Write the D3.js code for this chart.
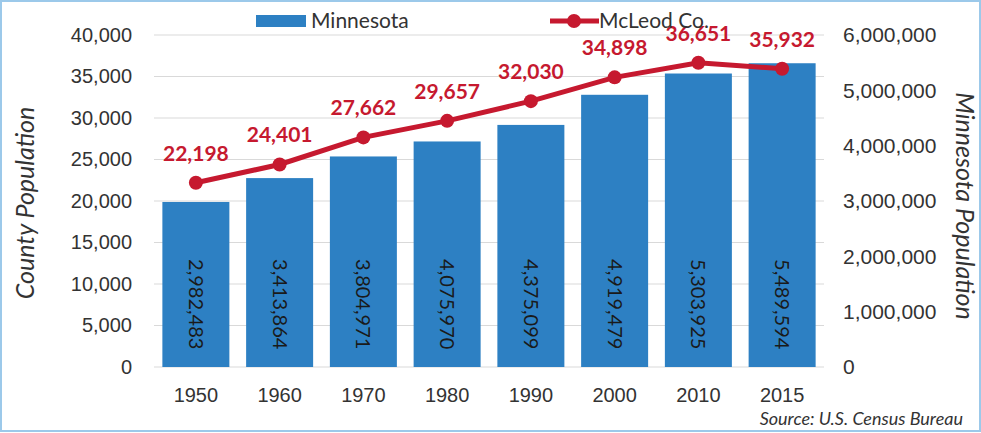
<!DOCTYPE html>
<html>
<head>
<meta charset="utf-8">
<script src="https://cdn.jsdelivr.net/npm/d3@7"></script>
<style>
  body { margin: 0; background: #fff; }
  svg { display: block; font-family: Lato, "Open Sans", sans-serif; }
</style>
</head>
<body>
<div id="chart"></div>
<script>
// data
const years = ["1950", "1960", "1970", "1980", "1990", "2000", "2010", "2015"];
const minnesota = [2982483, 3413864, 3804971, 4075970, 4375099, 4919479, 5303925, 5489594];
const mcleod = [22198, 24401, 27662, 29657, 32030, 34898, 36651, 35932];
const leftTicks = [0, 5000, 10000, 15000, 20000, 25000, 30000, 35000, 40000];
const rightTicks = [0, 1000000, 2000000, 3000000, 4000000, 5000000, 6000000];

const width = 981, height = 433;
const margin = {top: 35, right: 157, bottom: 66, left: 154};
const blue = "#2d80c3", red = "#c6192f", txt = "#333";
const fmt = d3.format(",");

const svg = d3.select("#chart").append("svg")
  .attr("width", width).attr("height", height);

// scanned page frame
svg.append("rect")
  .attr("x", 1).attr("y", 1).attr("width", width - 2).attr("height", height - 3)
  .attr("fill", "#fff").attr("stroke", "#9cc9ea").attr("stroke-width", 2);

const x = d3.scaleBand()
  .domain(years)
  .range([margin.left, width - margin.right])
  .paddingInner(0.2).paddingOuter(0.1);

const yL = d3.scaleLinear().domain([0, 40000]).range([height - margin.bottom, margin.top]);
const yR = d3.scaleLinear().domain([0, 6000000]).range([height - margin.bottom, margin.top]);

// gridlines
svg.append("g")
  .selectAll("line")
  .data(leftTicks)
  .join("line")
    .attr("x1", margin.left).attr("x2", width - margin.right)
    .attr("y1", d => yL(d)).attr("y2", d => yL(d))
    .attr("stroke", "#d9d9d9").attr("stroke-width", 1.2);

// left axis
svg.append("g")
  .attr("transform", `translate(${margin.left - 14},0)`)
  .call(d3.axisLeft(yL).tickValues(leftTicks).tickFormat(fmt).tickSize(0).tickPadding(8))
  .call(g => g.select(".domain").remove())
  .call(g => g.selectAll("text").attr("fill", txt).style("font-size", "20px"));

// right axis
svg.append("g")
  .attr("transform", `translate(${width - margin.right + 11},0)`)
  .call(d3.axisRight(yR).tickValues(rightTicks).tickFormat(fmt).tickSize(0).tickPadding(8))
  .call(g => g.select(".domain").remove())
  .call(g => g.selectAll("text").attr("fill", txt).style("font-size", "21px"));

// x axis
svg.append("g")
  .attr("transform", `translate(0,${height - margin.bottom + 13})`)
  .call(d3.axisBottom(x).tickSize(0).tickPadding(8))
  .call(g => g.select(".domain").remove())
  .call(g => g.selectAll("text").attr("fill", txt).style("font-size", "20px"));

// bars (right axis)
svg.append("g")
  .selectAll("rect")
  .data(years)
  .join("rect")
    .attr("x", d => x(d))
    .attr("width", x.bandwidth())
    .attr("y", (d, i) => yR(minnesota[i]))
    .attr("height", (d, i) => yR(0) - yR(minnesota[i]))
    .attr("fill", blue);

// rotated bar labels
svg.append("g")
  .selectAll("text")
  .data(years)
  .join("text")
    .attr("transform", d => `translate(${x(d) + x.bandwidth() / 2},${yL(13000)}) rotate(90)`)
    .attr("dy", "0.35em")
    .attr("fill", "#1a1a1a")
    .style("font-size", "20px")
    .text((d, i) => fmt(minnesota[i]));

// line (left axis)
const line = d3.line()
  .x((d, i) => x(years[i]) + x.bandwidth() / 2)
  .y(d => yL(d));

svg.append("path")
  .datum(mcleod)
  .attr("d", line)
  .attr("fill", "none")
  .attr("stroke", red)
  .attr("stroke-width", 5);

svg.append("g")
  .selectAll("circle")
  .data(mcleod)
  .join("circle")
    .attr("cx", (d, i) => x(years[i]) + x.bandwidth() / 2)
    .attr("cy", d => yL(d))
    .attr("r", 7)
    .attr("fill", red);

svg.append("g")
  .selectAll("text")
  .data(mcleod)
  .join("text")
    .attr("x", (d, i) => x(years[i]) + x.bandwidth() / 2)
    .attr("y", d => yL(d) - 22)
    .attr("text-anchor", "middle")
    .attr("fill", red)
    .style("font-size", "21px")
    .style("font-weight", "bold")
    .text(d => fmt(d));

// axis titles
svg.append("text")
  .attr("transform", `translate(34,${(margin.top + height - margin.bottom) / 2 + 2}) rotate(-90)`)
  .attr("text-anchor", "middle")
  .attr("fill", txt)
  .style("font-size", "25px")
  .style("font-style", "italic")
  .text("County Population");

svg.append("text")
  .attr("transform", `translate(956,${(margin.top + height - margin.bottom) / 2 + 5}) rotate(90)`)
  .attr("text-anchor", "middle")
  .attr("fill", txt)
  .style("font-size", "25px")
  .style("font-style", "italic")
  .text("Minnesota Population");

// legend
const lg = svg.append("g");
lg.append("rect").attr("x", 256).attr("y", 15).attr("width", 50).attr("height", 12).attr("fill", blue);
lg.append("text").attr("x", 311).attr("y", 28).attr("fill", txt).style("font-size", "21px").text("Minnesota");
lg.append("line").attr("x1", 550).attr("x2", 599).attr("y1", 21).attr("y2", 21)
  .attr("stroke", red).attr("stroke-width", 5);
lg.append("circle").attr("cx", 574).attr("cy", 21).attr("r", 7).attr("fill", red);
lg.append("text").attr("x", 599).attr("y", 28).attr("fill", txt).style("font-size", "21px").text("McLeod Co.");

// source
svg.append("text")
  .attr("x", 963).attr("y", 425)
  .attr("text-anchor", "end")
  .attr("fill", txt)
  .style("font-size", "18px")
  .style("font-style", "italic")
  .text("Source: U.S. Census Bureau");
</script>
</body>
</html>
